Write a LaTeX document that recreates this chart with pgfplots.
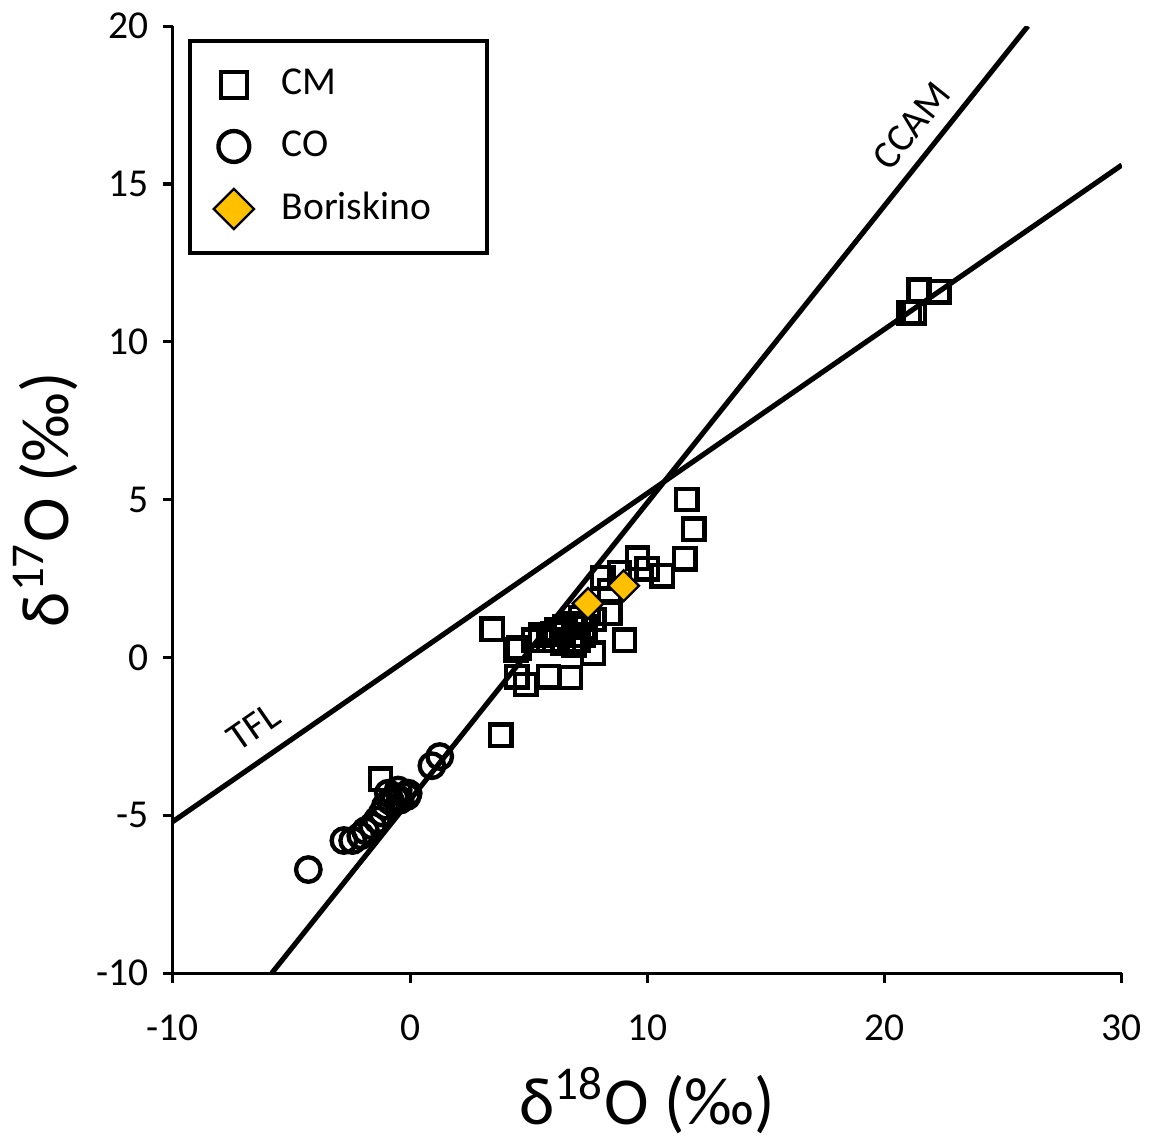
\documentclass[border=0pt]{standalone}
\usepackage{pgfplots}
\pgfplotsset{compat=1.18}
\usepackage{fontspec}
\setmainfont{Carlito}
\begin{document}
\begin{tikzpicture}
\begin{axis}[
  scale only axis,
  width=240pt, height=239.5pt,
  xmin=-10, xmax=30, ymin=-10, ymax=20,
  xtick={-10,0,10,20,30}, ytick={-10,-5,0,5,10,15,20},
  axis x line*=bottom, axis y line*=left,
  axis line style={line width=0.8pt},
  tick align=outside, major tick length=2.5pt,
  tick style={line width=0.8pt, black},
  /pgf/number format/assume math mode=true,
  ticklabel style={font=\fontsize{10}{12}\selectfont},
  xticklabel style={yshift=-4.5pt},
  xlabel={δ\textsuperscript{18}O (‰)},
  ylabel={δ\textsuperscript{17}O (‰)},
  label style={font=\fontsize{17}{20}\selectfont},
  xlabel style={yshift=0pt},
  ylabel style={yshift=-2pt},
  clip=true,
  legend cell align=left,
  legend style={at={(0.016,0.986)}, anchor=north west, draw=black, line width=1pt,
     font=\fontsize{10}{12}\selectfont, inner xsep=6pt, inner ysep=5pt,
     row sep=3.6pt, /tikz/every odd column/.style={column sep=5pt},
     /tikz/every even column/.style={text width=44pt}},
]
% TFL
\addplot[black, line width=1.3pt, forget plot] coordinates {(-10,-5.2) (30,15.6)};
% CCAM
\addplot[black, line width=1.3pt, forget plot] coordinates {(-5.83,-10) (26.04,20)};
% CM
\addplot[only marks, mark=square, mark size=2.7pt, mark options={line width=1.1pt, black},
  legend image post style={mark size=3.3pt}] coordinates {
(-1.25,-3.86) (3.83,-2.46) (3.46,0.90) (4.46,0.24) (4.58,0.30) (4.5,-0.61)
(4.88,-0.86) (5.83,-0.61) (6.75,-0.64) (5.5,0.71) (5.83,0.55) (6.17,0.87)
(6.54,0.96) (6.96,1.08) (7.38,0.96) (7.71,0.14) (7.08,0.55) (6.46,0.46)
(8.42,1.40) (8.42,2.12) (9.04,0.55) (8.13,2.52) (8.83,2.68) (9.58,3.15)
(10.0,2.81) (10.63,2.59) (11.58,3.12) (11.67,5.0) (11.96,4.06)
(21.46,11.64) (22.29,11.58) (21.04,10.92) (21.25,10.92)
(5.2,0.55) (6.0,0.75) (7.2,1.25) (7.75,1.2) (7.3,0.7) (6.9,0.4)
};
\addlegendentry{CM}
% CO
\addplot[only marks, mark=o, mark size=3.1pt, mark options={line width=1.1pt, black},
  legend image post style={mark size=3.9pt}] coordinates {
(-4.29,-6.72) (-2.79,-5.80) (-2.42,-5.80) (-2.08,-5.65) (-1.88,-5.49)
(-1.58,-5.34) (-1.38,-5.15) (-1.17,-4.93) (-1.04,-4.71) (-0.83,-4.55)
(-0.63,-4.46) (-0.42,-4.52) (-0.13,-4.40) (-0.08,-4.30) (0.92,-3.43)
(1.25,-3.14) (-0.92,-4.30) (-0.50,-4.20)
};
\addlegendentry{CO}
% Boriskino
\addplot[only marks, mark=square*, mark size=2.75pt, mark options={rotate=45, fill={rgb,255:red,255;green,192;blue,0}, draw=black, line width=0.6pt},
  legend image post style={mark size=3.6pt}] coordinates {
(7.5,1.71) (9.0,2.27)
};
\addlegendentry{Boriskino}
\node[rotate=34.7, font=\fontsize{10}{12}\selectfont] at (axis cs:-6.6,-2.2) {TFL};
\node[rotate=51.4, font=\fontsize{10}{12}\selectfont] at (axis cs:21.13,16.84) {CCAM};
\end{axis}
\end{tikzpicture}
\end{document}
